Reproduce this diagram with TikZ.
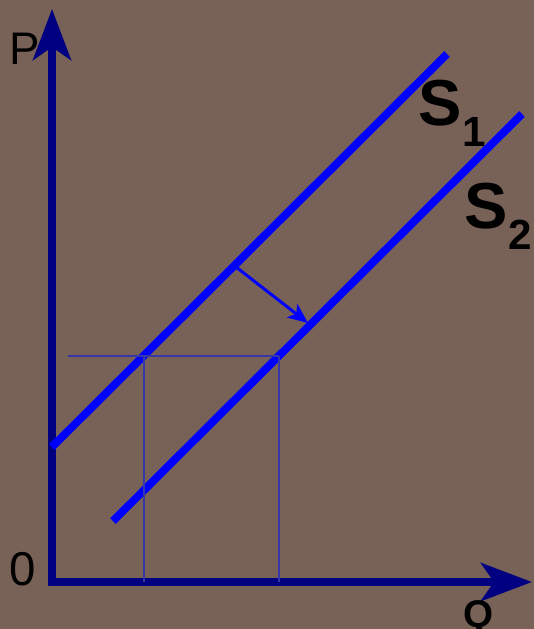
\documentclass[tikz,border=0pt]{standalone}
\usepackage{fontspec}
\setmainfont{Liberation Sans}
\usetikzlibrary{arrows.meta,positioning,calc}
\definecolor{bgbrown}{RGB}{120,98,88}
\definecolor{axisnavy}{RGB}{0,0,128}
\definecolor{supplyblue}{RGB}{0,0,255}
\definecolor{guideblue}{RGB}{55,55,170}
\tikzset{
  axisline/.style={axisnavy, line width=4.5pt, line join=miter,
    arrows={Stealth[length=1.02cm, width=0.76cm, inset=0.26cm]-Stealth[length=1.02cm, width=0.76cm, inset=0.26cm]}},
  supplyline/.style={supplyblue, line width=4.5pt},
  guideline/.style={guideblue, line width=1.4pt},
  shiftarrow/.style={supplyblue, line width=1.7pt, -{Stealth[length=0.4cm, width=0.34cm, inset=0.1cm]}},
  axislabel/.style={inner sep=0pt, anchor=base, font=\fontsize{26}{30}\selectfont},
  curvelabel/.style={inner sep=0pt, anchor=base west, font=\bfseries\fontsize{37}{40}\selectfont}
}
\newcommand{\curvesub}[1]{\raisebox{-12.5pt}{\fontsize{24}{28}\selectfont #1}}

\begin{document}
\begin{tikzpicture}[x=0.02cm, y=-0.02cm, >=Stealth, line width=0.9pt]
  \fill[bgbrown] (0,0) rectangle (534,629);
  \useasboundingbox (0,0) rectangle (534,629);
  % axes
  \coordinate (origin) at (52,582);
  \coordinate (ptop) at (52,9);
  \coordinate (qend) at (532,582);
  \draw[axisline] (ptop) -- (origin) -- (qend);
  \node[axislabel] (plabel) at (25,64) {P};
  \node[axislabel, font=\fontsize{27}{30}\selectfont] (zerolabel) at (23,585) {0};
  \node[axislabel, font=\bfseries\fontsize{22}{26}\selectfont] (qlabel) at (479,627) {Q};
  % supply curves
  \coordinate (s1low) at (52,447);
  \coordinate (s1high) at (447,54);
  \coordinate (s2low) at (113,521);
  \coordinate (s2high) at (522,114);
  \draw[supplyline] (s1low) -- (s1high);
  \draw[supplyline] (s2low) -- (s2high);
  \node[curvelabel] (s1label) at (418,125) {S\curvesub{1}};
  \node[curvelabel] (s2label) at (464,228) {S\curvesub{2}};
  % shift of supply
  \coordinate (shiftfrom) at (236,267);
  \coordinate (shiftto) at (308,323);
  \draw[shiftarrow] (shiftfrom) -- (shiftto);
  % price and quantities
  \coordinate (pleft) at (68,356);
  \coordinate (qone) at (144,356);
  \coordinate (qtwo) at (279,356);
  \draw[guideline] (pleft) -- (qtwo |- pleft);
  \draw[guideline] (qone) -- (qone |- origin);
  \draw[guideline] (qtwo) -- (qtwo |- origin);
\end{tikzpicture}
\end{document}
